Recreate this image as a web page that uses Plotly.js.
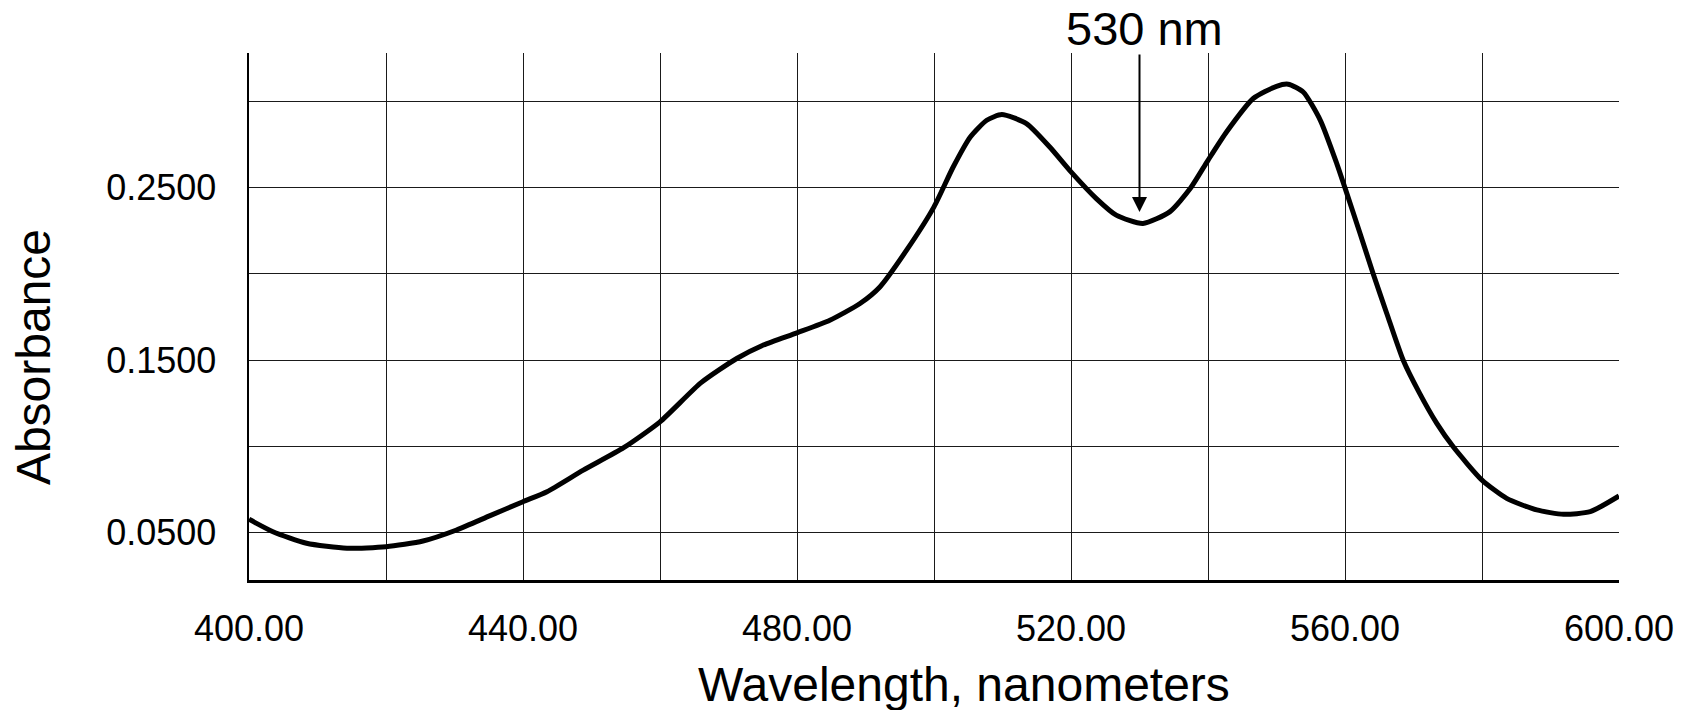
<!DOCTYPE html>
<html>
<head>
<meta charset="utf-8">
<script src="https://cdn.plot.ly/plotly-3.0.1.min.js"></script>
<style>
  html, body { margin: 0; padding: 0; background: #ffffff; }
  #chart { width: 1696px; height: 710px; }
</style>
</head>
<body>
<div id="chart"></div>
<script>
// Wavelength (nm) and absorbance
const wavelength = [
  400, 403.5, 408.4, 414.3, 420, 425.4, 430.3, 435.2, 440, 443.5,
  448.8, 454.7, 460, 466, 471.2, 475.1, 480, 484.8, 489.2, 492.1,
  496, 500, 502.8, 505.3, 507.7, 509.9, 513.5, 516.9, 520, 523.7,
  526.6, 530.5, 534.4, 537.4, 540, 542.7, 546.6, 550, 551.7, 553.9,
  556.4, 558.8, 560, 562.2, 564.1, 566.1, 568.5, 570.9, 573.4, 575.8,
  580, 583.6, 588, 591.9, 595.8, 600
];
const absorbance = [
  0.0578, 0.0506, 0.0439, 0.0410, 0.0419, 0.0452, 0.0516, 0.0599, 0.0680, 0.0738,
  0.0863, 0.0993, 0.1143, 0.1370, 0.1510, 0.1588, 0.1659, 0.1732, 0.1829, 0.1925,
  0.2138, 0.2389, 0.2620, 0.2794, 0.2891, 0.2924, 0.2872, 0.2736, 0.2592, 0.2437,
  0.2341, 0.2293, 0.2360, 0.2495, 0.2659, 0.2823, 0.3017, 0.3088, 0.3100, 0.3055,
  0.2891, 0.2640, 0.2499, 0.2235, 0.2003, 0.1771, 0.1500, 0.1308, 0.1134, 0.0998,
  0.0805, 0.0699, 0.0632, 0.0607, 0.0622, 0.0713
];

// Axis ticks
const xTickVals = [400, 420, 440, 460, 480, 500, 520, 540, 560, 580, 600];
const xTickText = ['400.00', '', '440.00', '', '480.00', '', '520.00', '', '560.00', '', '600.00'];
const yTickVals = [0.05, 0.10, 0.15, 0.20, 0.25, 0.30];
const yTickText = ['0.0500', '', '0.1500', '', '0.2500', ''];

// Annotated minimum
const markedWavelength = [530];
const markedAbsorbance = [0.236];
const markedLabel = ['530 nm'];

const FONT = 'Liberation Sans, Arial, Helvetica, sans-serif';

const trace = {
  x: wavelength,
  y: absorbance,
  type: 'scatter',
  mode: 'lines',
  line: { color: '#000000', width: 5, shape: 'spline', smoothing: 0.6 },
  hoverinfo: 'x+y'
};

const yTop = 0.3281;

const layout = {
  width: 1696,
  height: 710,
  margin: { l: 249, r: 77, t: 53, b: 130, pad: 0 },
  paper_bgcolor: '#ffffff',
  plot_bgcolor: '#ffffff',
  showlegend: false,
  font: { family: FONT, color: '#000000' },
  xaxis: {
    range: [400, 600],
    tickmode: 'array',
    tickvals: xTickVals,
    ticktext: xTickText,
    ticks: '',
    showgrid: true,
    gridcolor: '#1a1a1a',
    gridwidth: 1,
    showline: true,
    linecolor: '#000000',
    linewidth: 2.5,
    zeroline: false,
    tickfont: { family: FONT, size: 36, color: '#000000' },
    ticklabelstandoff: 15
  },
  yaxis: {
    range: [0.0226, yTop],
    tickmode: 'array',
    tickvals: yTickVals,
    ticktext: yTickText,
    ticks: '',
    showgrid: true,
    gridcolor: '#1a1a1a',
    gridwidth: 1,
    showline: true,
    linecolor: '#000000',
    linewidth: 2.5,
    zeroline: false,
    tickfont: { family: FONT, size: 36, color: '#000000' },
    ticklabelstandoff: 23
  },
  annotations: [
    {
      text: 'Wavelength, nanometers',
      xref: 'paper', yref: 'paper',
      x: 0.522, y: -0.199,
      xanchor: 'center', yanchor: 'middle',
      showarrow: false,
      font: { family: FONT, size: 48, color: '#000000' }
    },
    {
      text: 'Absorbance',
      xref: 'paper', yref: 'paper',
      x: -0.1573, y: 0.4239,
      xanchor: 'center', yanchor: 'middle',
      textangle: -90,
      showarrow: false,
      font: { family: FONT, size: 48, color: '#000000' }
    },
    {
      text: markedLabel[0],
      xref: 'paper', yref: 'paper',
      x: 0.6533, y: 1.0462,
      xanchor: 'center', yanchor: 'middle',
      showarrow: false,
      font: { family: FONT, size: 47, color: '#000000' }
    },
    {
      text: '',
      xref: 'x', yref: 'y',
      x: markedWavelength[0], y: markedAbsorbance[0],
      axref: 'x', ayref: 'y',
      ax: markedWavelength[0], ay: yTop,
      showarrow: true,
      arrowhead: 2,
      arrowsize: 1.5,
      arrowwidth: 2,
      arrowcolor: '#000000',
      standoff: 0,
      startstandoff: 0
    }
  ]
};

Plotly.newPlot('chart', [trace], layout, { displayModeBar: false, staticPlot: true });
</script>
</body>
</html>
